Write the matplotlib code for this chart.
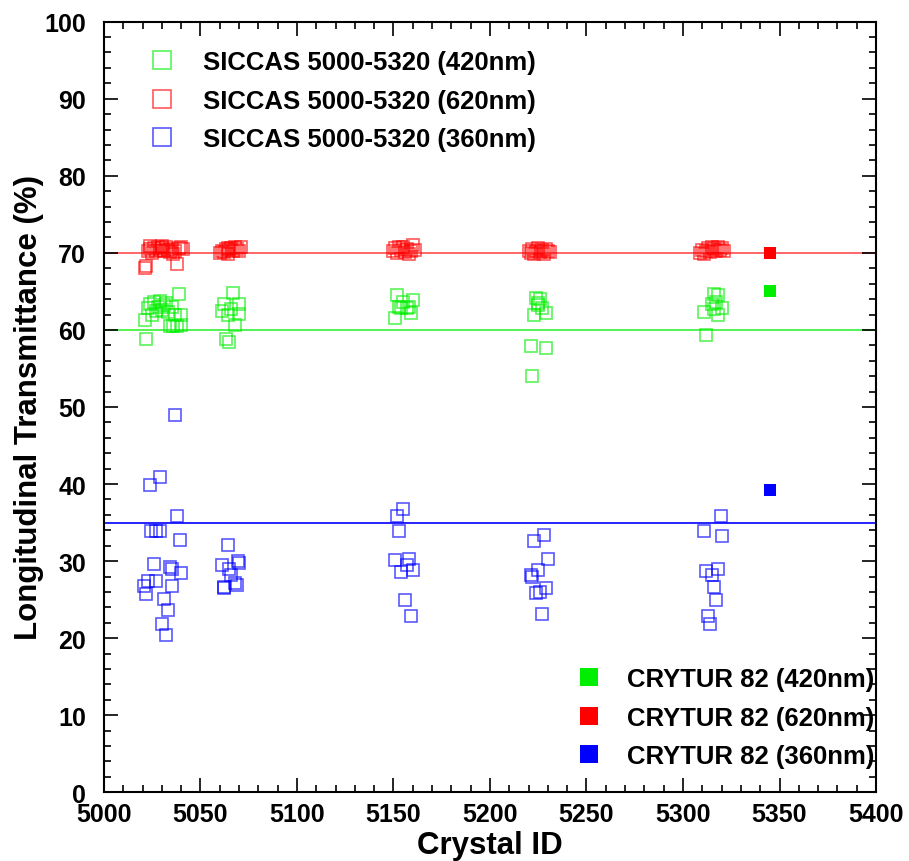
import matplotlib
matplotlib.use('Agg')
import matplotlib.pyplot as plt
from matplotlib.lines import Line2D
from matplotlib.ticker import MultipleLocator

plt.rcParams['font.family'] = ['Liberation Sans', 'DejaVu Sans']
plt.rcParams['font.weight'] = 'bold'

# SICCAS 420nm
id_420 = [5039, 5021, 5022, 5034, 5036, 5038, 5040, 5040, 5023, 5024, 5026, 5027, 5028, 5029,
          5030, 5031, 5032, 5033, 5035, 5037, 5025,
          5067, 5062, 5070, 5061, 5066, 5064, 5070, 5068, 5063, 5065,
          5152, 5160, 5155, 5153, 5157, 5159, 5151, 5154, 5158,
          5221, 5229, 5222, 5224, 5226, 5225, 5229, 5223, 5225, 5227,
          5316, 5318, 5315, 5320, 5311, 5316, 5318, 5312, 5317]
t_420 = [64.7, 61.3, 58.8, 60.5, 60.5, 60.5, 60.7, 62.0, 62.8, 63.3, 63.6, 62.5, 63.0, 63.8,
         62.6, 63.2, 63.5, 62.3, 63.0, 62.0, 62.0,
         64.8, 63.3, 63.3, 62.5, 62.7, 62.0, 62.1, 60.7, 58.8, 58.4,
         64.5, 63.9, 63.6, 63.0, 62.8, 62.2, 61.6, 62.8, 63.0,
         57.9, 57.6, 54.0, 64.2, 64.0, 63.2, 62.2, 61.9, 63.5, 62.9,
         64.7, 64.5, 63.3, 62.9, 62.3, 62.7, 62.0, 59.4, 63.6]

# SICCAS 620nm
id_620 = [5021, 5022, 5038, 5023, 5024, 5025, 5026, 5027, 5028, 5029, 5030, 5031, 5032, 5033,
          5034, 5035, 5036, 5037, 5039, 5040, 5041, 5024, 5030,
          5060, 5061, 5062, 5063, 5064, 5065, 5066, 5067, 5068, 5069, 5070, 5071, 5064,
          5150, 5151, 5152, 5153, 5154, 5155, 5156, 5157, 5158, 5159, 5160, 5161,
          5220, 5221, 5222, 5223, 5224, 5225, 5226, 5227, 5228, 5229, 5230, 5231,
          5309, 5310, 5311, 5312, 5313, 5314, 5315, 5316, 5317, 5318, 5319, 5320, 5321]
t_620 = [68.0, 68.3, 68.5, 70.2, 70.5, 70.0, 70.6, 70.3, 70.8, 70.4, 70.6, 70.2, 70.7, 70.4,
         70.1, 70.5, 69.8, 70.3, 70.6, 70.8, 70.5, 70.9, 70.9,
         70.0, 70.3, 70.1, 70.5, 69.9, 70.4, 70.6, 70.2, 70.7, 70.5, 70.3, 70.8, 70.6,
         70.2, 70.6, 70.0, 70.8, 70.4, 70.7, 70.1, 70.5, 69.9, 70.3, 71.0, 70.4,
         70.3, 70.0, 70.5, 69.9, 70.2, 70.6, 70.1, 70.4, 69.8, 70.5, 70.3, 70.1,
         70.0, 70.4, 69.8, 70.3, 70.6, 70.1, 70.8, 70.5, 70.2, 70.7, 70.4, 70.6, 70.3]

# SICCAS 360nm
id_360 = [5037, 5029, 5024, 5038, 5024.5, 5027, 5029, 5039.4, 5026, 5034, 5035, 5040, 5023,
          5027, 5020.7, 5035, 5022, 5031, 5033, 5030, 5032,
          5064, 5061, 5069.6, 5070, 5065, 5066, 5062, 5068, 5069, 5062,
          5155, 5152, 5153, 5151, 5158, 5157, 5160, 5154, 5156, 5159,
          5228, 5223, 5230, 5225, 5221, 5222, 5229, 5224, 5226, 5227,
          5319.5, 5311, 5320, 5318, 5312, 5315, 5316, 5317, 5313, 5314]
t_360 = [49.0, 40.9, 39.9, 35.9, 33.9, 33.9, 33.9, 32.8, 29.6, 29.2, 29.0, 28.5, 27.4,
         27.4, 26.8, 26.8, 25.7, 25.1, 23.7, 21.8, 20.4,
         32.1, 29.5, 30.0, 29.7, 29.0, 28.2, 26.7, 27.1, 26.9, 26.5,
         36.8, 35.8, 33.9, 30.1, 30.3, 29.5, 28.8, 28.6, 24.9, 22.9,
         33.4, 32.6, 30.3, 28.8, 28.2, 28.0, 26.5, 25.8, 26.0, 23.2,
         35.8, 33.9, 33.3, 29.0, 28.7, 28.2, 26.7, 24.9, 22.9, 21.8]

# CRYTUR 82
crytur_id = 5345
crytur_420 = 65.1
crytur_620 = 70.0
crytur_360 = 39.2

# reference levels
ref_420, ref_620, ref_360 = 60, 70, 35

GREEN, RED, BLUE = '#00ee00', '#ff0000', '#0000ff'

fig = plt.figure(figsize=(9.09, 8.62), dpi=100)
ax = fig.add_axes([0.1144, 0.0797, 0.8493, 0.894])

ax.axhline(ref_620, color=RED, lw=1.4, alpha=0.6, zorder=1)
ax.axhline(ref_420, color=GREEN, lw=1.2, alpha=0.8, zorder=1)
ax.axhline(ref_360, color=BLUE, lw=1.2, zorder=1)

mk = dict(ls='none', marker='s', ms=9, mew=1.2, mfc='none', alpha=0.65)
ax.plot(id_420, t_420, mec=GREEN, **mk)
ax.plot(id_620, t_620, mec=RED, **mk)
ax.plot(id_360, t_360, mec=BLUE, **mk)

fk = dict(ls='none', marker='s', ms=8.5, mew=0)
ax.plot(crytur_id, crytur_420, mfc=GREEN, **fk)
ax.plot(crytur_id, crytur_620, mfc=RED, **fk)
ax.plot(crytur_id, crytur_360, mfc=BLUE, **fk)

ax.set_xlim(5000, 5400)
ax.set_ylim(0, 100)
ax.xaxis.set_major_locator(MultipleLocator(50))
ax.xaxis.set_minor_locator(MultipleLocator(10))
ax.yaxis.set_major_locator(MultipleLocator(10))
ax.yaxis.set_minor_locator(MultipleLocator(2))
ax.tick_params(which='both', direction='in', top=True, right=True, width=1.2,
               labelsize=18)
ax.tick_params(which='major', length=10)
ax.tick_params(which='minor', length=5)
ax.tick_params(axis='x', which='major', pad=7)
ax.tick_params(axis='y', which='major', pad=13)
for s in ax.spines.values():
    s.set_linewidth(1.5)

ax.set_xlabel('Crystal ID', fontsize=22.5, fontweight='bold', labelpad=3)
ax.set_ylabel('Longitudinal Transmittance (%)', fontsize=22.5, fontweight='bold', labelpad=0)

h1 = [Line2D([], [], mec=c, **mk) for c in (GREEN, RED, BLUE)]
leg1 = ax.legend(h1, ['SICCAS 5000-5320 (420nm)', 'SICCAS 5000-5320 (620nm)',
                      'SICCAS 5000-5320 (360nm)'],
                 loc='upper left', bbox_to_anchor=(0.058, 0.963), frameon=False,
                 fontsize=18.5, handlelength=1.0, handletextpad=1.11, markerscale=1.45,
                 labelspacing=0.56, borderpad=0, borderaxespad=0)
ax.add_artist(leg1)

h2 = [Line2D([], [], mfc=c, **fk) for c in (GREEN, RED, BLUE)]
ax.legend(h2, ['CRYTUR 82 (420nm)', 'CRYTUR 82 (620nm)', 'CRYTUR 82 (360nm)'],
          loc='upper left', bbox_to_anchor=(0.611, 0.1624), frameon=False,
          fontsize=18.5, handlelength=1.0, handletextpad=0.99, markerscale=1.5,
          labelspacing=0.56, borderpad=0, borderaxespad=0)

fig.savefig('out.png', dpi=100)
